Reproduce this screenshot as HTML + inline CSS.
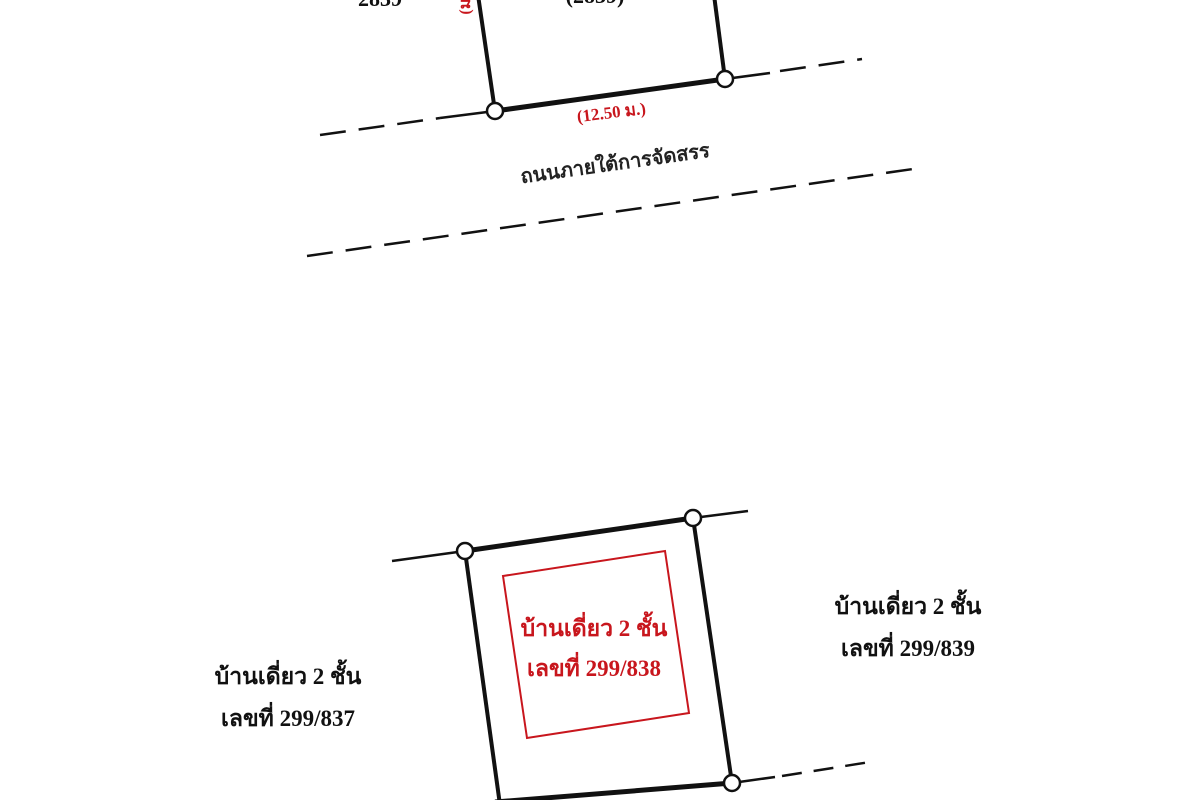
<!DOCTYPE html>
<html><head><meta charset="utf-8"><style>
html,body{margin:0;padding:0;background:#fff;width:1200px;height:800px;overflow:hidden}
text{font-family:"Liberation Serif","Noto Serif CJK SC","Noto Sans CJK SC",serif;font-weight:bold}
</style></head><body>
<svg width="1200" height="800" viewBox="0 0 1200 800" xmlns="http://www.w3.org/2000/svg">
<g stroke="#111" fill="none" stroke-linecap="butt">
  <line x1="478" y1="-5" x2="495" y2="111" stroke-width="4"/>
  <line x1="714" y1="-5" x2="725" y2="79" stroke-width="4"/>
  <line x1="495" y1="111" x2="725" y2="79" stroke-width="5"/>
  <line x1="320" y1="135" x2="440" y2="118" stroke-width="2.5" stroke-dasharray="26,13"/>
  <line x1="440" y1="118" x2="495" y2="111" stroke-width="2.5"/>
  <line x1="725" y1="79" x2="770" y2="73" stroke-width="2.5"/>
  <line x1="780" y1="71" x2="862" y2="59" stroke-width="2.5" stroke-dasharray="26,13"/>
  <line x1="307" y1="256" x2="920" y2="168" stroke-width="2.5" stroke-dasharray="26,13"/>
  <line x1="392" y1="561" x2="465" y2="551" stroke-width="2.5"/>
  <line x1="693" y1="518" x2="748" y2="511" stroke-width="2.5"/>
  <line x1="465" y1="551" x2="693" y2="518" stroke-width="5"/>
  <line x1="465" y1="551" x2="500" y2="805" stroke-width="4"/>
  <line x1="693" y1="518" x2="732" y2="783" stroke-width="4"/>
  <line x1="495" y1="802" x2="732" y2="783" stroke-width="5"/>
  <line x1="732" y1="783" x2="775" y2="777" stroke-width="2.5"/>
  <line x1="782" y1="776" x2="870" y2="762" stroke-width="2.5" stroke-dasharray="20,12"/>
</g>
<polygon points="503,576 665,551 689,713 527,738" fill="none" stroke="#c8161d" stroke-width="2"/>
<g fill="#fff" stroke="#111" stroke-width="2.5">
  <circle cx="495" cy="111" r="8"/><circle cx="725" cy="79" r="8"/>
  <circle cx="465" cy="551" r="8"/><circle cx="693" cy="518" r="8"/>
  <circle cx="732" cy="783" r="8"/>
</g>
<text x="380" y="6" font-size="22" fill="#111" text-anchor="middle">2839</text>
<text x="595" y="3" font-size="22" fill="#111" text-anchor="middle">(2839)</text>
<text transform="translate(470,2) rotate(-90)" font-size="16" fill="#c8161d" text-anchor="middle">(ม.)</text>
<text transform="translate(612,118) rotate(-7)" font-size="17" fill="#c8161d" text-anchor="middle">(12.50 ม.)</text>
<text transform="translate(616,170) rotate(-8)" font-size="20" fill="#222" text-anchor="middle" font-weight="normal">ถนนภายใต้การจัดสรร</text>
<g fill="#c8161d" font-size="23" text-anchor="middle">
  <text x="594" y="636">บ้านเดี่ยว 2 ชั้น</text>
  <text x="594" y="676">เลขที่ 299/838</text>
</g>
<g fill="#111" font-size="23" text-anchor="middle">
  <text x="288" y="684">บ้านเดี่ยว 2 ชั้น</text>
  <text x="288" y="726">เลขที่ 299/837</text>
  <text x="908" y="614">บ้านเดี่ยว 2 ชั้น</text>
  <text x="908" y="656">เลขที่ 299/839</text>
</g>
</svg>
</body></html>
